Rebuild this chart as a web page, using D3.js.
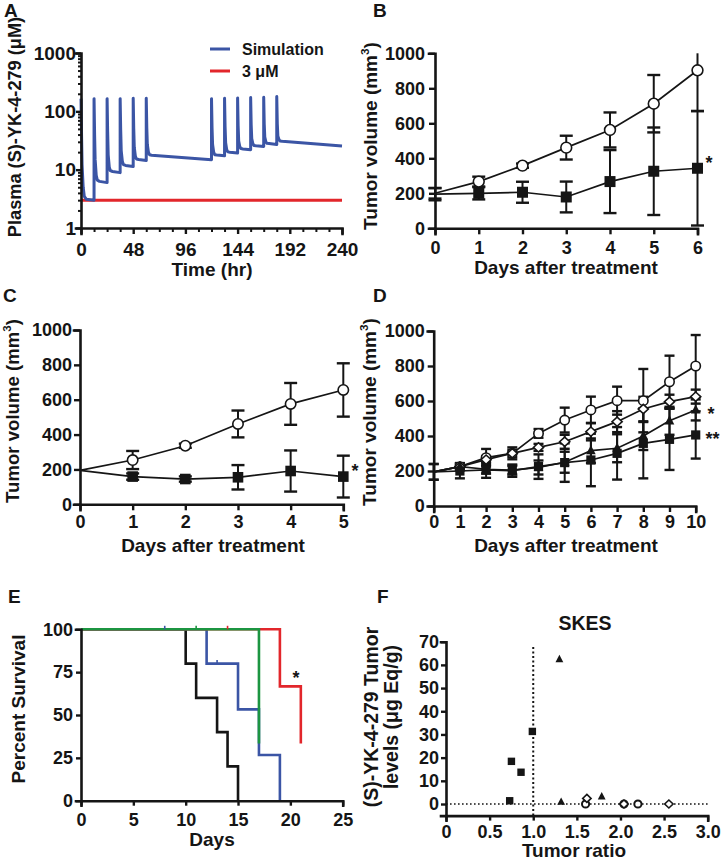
<!DOCTYPE html>
<html><head><meta charset="utf-8">
<script src="https://cdn.jsdelivr.net/npm/d3@7"></script>
<style>
body{margin:0;background:#fff}
svg text{font-family:"Liberation Sans",Arial,Helvetica,sans-serif;font-weight:bold;fill:#151515}
</style></head><body>
<svg id="c" width="722" height="864"></svg>
<script>
// ---------------- DATA ----------------
// Panel A: simulated plasma concentration (hr, µM)
const A_time = [0,0.5,1,2,3,5,12, 12,12.5,13,14,15,17,24, 24,24.5,25,26,27,29,36, 36,36.5,37,38,39,41,48,
  48,48.5,49,50,51,53,60, 60,60.5,61,62,63,65,120, 120,120.5,121,122,123,125,132, 132,132.5,133,134,135,137,144,
  144,144.5,145,146,147,149,156, 156,156.5,157,158,159,161,168, 168,168.5,169,170,171,173,180, 180,180.5,181,182,183,185,240];
const A_conc = [165,40,12,5,3.5,3.1,3.0, 165,40,15,8,6.6,6.3,6.0, 165,45,18,11,9.6,9.3,8.9, 165,48,21,14,12.2,11.8,11.3,
  167,50,24,17,15.2,14.9,14.3, 167,52,27,20,18,17.7,14.8, 165,52,27,20,18,17.8,17.3, 167,54,29,22,20.2,19.9,19.3,
  170,56,31,25,23,22.7,22, 172,58,34,28,26,25.7,25, 175,60,36,30,28.3,28,27, 180,62,38,33,31,30.6,25.5];
const A_threshold = 3;
const A_xTicks = [0,48,96,144,192,240];
const A_xMinor = [12,24,36,60,72,84,108,120,132,156,168,180,204,216,228];
const A_yTicks = [1,10,100,1000];
const A_legend = ["Simulation","3 μM"];

// Panel B
const B_days = [0,1,2,3,4,5,6];
const B_ctrl = [200,267,358,461,562,712,903];
const B_ctrlErr = [30,28,12,68,100,164,233];
const B_trt = [195,200,206,179,267,326,343];
const B_trtErr = [35,35,60,88,180,250,327];

// Panel C
const C_days = [0,1,2,3,4,5];
const C_ctrl = [195,254,336,461,576,656];
const C_ctrlErr = [0,52,12,77,120,153];
const C_trt = [195,159,145,155,191,159];
const C_trtErr = [0,18,15,70,118,120];

// Panel D
const D_days = [0,1,2,3,4,5,6,7,8,9,10];
const D_ctrl = [195,225,276,301,415,491,549,602,602,710,800];
const D_ctrlErr = [45,20,50,34,25,71,76,80,181,149,177];
const D_dia = [195,225,265,301,335,367,425,482,554,596,625];
const D_diaErr = [0,15,20,20,20,40,50,60,70,40,40];
const D_tri = [195,225,210,205,220,250,316,330,400,487,549];
const D_triErr = [0,20,25,25,40,60,70,80,80,80,60];
const D_sq = [195,200,206,202,225,248,263,301,358,381,406];
const D_sqErr = [45,42,45,35,70,110,150,150,200,175,135];

// Panel E: Kaplan-Meier steps (day, % survival)
const E_black_t = [0,10,11,13,14,15];   const E_black_s = [100,80,60,40,20,0];
const E_blue_t  = [0,12,15,17,19];      const E_blue_s  = [100,80,53.3,26.7,0];
const E_green_t = [0,17];               const E_green_s = [100,33.3];
const E_red_t   = [0,19,21];            const E_red_s   = [100,66.7,33.3];
const E_blueCens_t = [8,13];  const E_blueCens_s = [100,80];
const E_greenCens_t = [11];   const E_greenCens_s = [100];
const E_redCens_t = [14];     const E_redCens_s = [100];

// Panel F: tumor ratio vs tumor levels
const F_sq_x  = [0.73,0.75,0.86,0.99]; const F_sq_y  = [1.4,18.4,13.7,31.3];
const F_tri_x = [1.30,1.32,1.785];     const F_tri_y = [62.4,0.9,3.2];
const F_dia_x = [1.615,2.04,2.555];    const F_dia_y = [2.4,0,0];
const F_cir_x = [1.60,2.04,2.20];      const F_cir_y = [0,0,0];

// ---------------- DRAWING ----------------
const svg = d3.select('#c');
const INK = '#151515';
const BLUE = '#3b55a5', RED = '#e2262b', GREEN = '#1c9541';

function styleAxis(g, fs){
  g.attr('font-size', fs).attr('font-family', null);
  g.select('.domain').attr('stroke', INK).attr('stroke-width', 2.6).attr('stroke-linecap','square');
  g.selectAll('.tick line').attr('stroke', INK).attr('stroke-width', 2.4);
  g.selectAll('.tick text').attr('fill', INK);
}
function drawAxes(g, x, y, o){
  const xa = g.append('g').attr('transform', `translate(0,${y.range()[0]})`)
    .call(d3.axisBottom(x).tickValues(o.xTicks).tickFormat(o.xFmt || (d=>d))
      .tickSizeOuter(0).tickSize(o.xt).tickPadding(o.xp));
  styleAxis(xa, o.fs);
  const ya = g.append('g').attr('transform', `translate(${x.range()[0]},0)`)
    .call(d3.axisLeft(y).tickValues(o.yTicks).tickFormat(o.yFmt || (d=>d))
      .tickSizeOuter(0).tickSize(o.yt).tickPadding(o.yp));
  styleAxis(ya, o.fs);
}
function yTitle(x, y, lines, fs){
  lines.forEach((ln, i) => {
    const t = svg.append('text').attr('transform', `translate(${x[i]},${y}) rotate(-90)`)
      .attr('text-anchor','middle').attr('font-size', fs);
    if (Array.isArray(ln)) {
      t.append('tspan').text(ln[0]);
      t.append('tspan').attr('font-size', fs*0.62).attr('dy', -fs*0.42).text(ln[1]);
      t.append('tspan').attr('dy', fs*0.42).text(ln[2]);
    } else t.text(ln);
  });
}
function text(x, y, s, fs, anchor){
  return svg.append('text').attr('x', x).attr('y', y).attr('font-size', fs)
    .attr('text-anchor', anchor || 'start').text(s);
}
function marker(g, shape, cx, cy, s){
  if (shape === 'circle') g.append('circle').attr('cx',cx).attr('cy',cy).attr('r',s)
      .attr('fill','#fff').attr('stroke',INK).attr('stroke-width',1.6);
  else if (shape === 'square') g.append('rect').attr('x',cx-s).attr('y',cy-s)
      .attr('width',2*s).attr('height',2*s).attr('fill',INK);
  else if (shape === 'triangle') g.append('path')
      .attr('d',`M${cx},${cy-s*1.15}L${cx+s},${cy+s*0.75}L${cx-s},${cy+s*0.75}Z`).attr('fill',INK);
  else if (shape === 'diamond') g.append('path')
      .attr('d',`M${cx},${cy-s}L${cx+s*1.1},${cy}L${cx},${cy+s}L${cx-s*1.1},${cy}Z`)
      .attr('fill','#fff').attr('stroke',INK).attr('stroke-width',1.6);
}

// ---- Panel A ----
(function(){
  const g = svg.append('g');
  const x = d3.scaleLinear().domain([0,240]).range([81,342]);
  const y = d3.scaleLog().domain([1,1000]).range([228,53]);
  const line = d3.line().x(d=>x(d[0])).y(d=>y(d[1]));
  g.append('path').attr('d', line([[0,A_threshold],[240,A_threshold]]))
    .attr('stroke', RED).attr('stroke-width', 3).attr('fill','none');
  g.append('path').attr('d', line(A_time.map((t,i)=>[t, A_conc[i]])))
    .attr('stroke', BLUE).attr('stroke-width', 3).attr('fill','none').attr('stroke-linejoin','round');
  const yMinor = [];
  [1,10,100].forEach(d=>{ for(let k=2;k<10;k++) yMinor.push(d*k); });
  const ym = g.append('g').attr('transform','translate(81,0)')
    .call(d3.axisLeft(y).tickValues(yMinor).tickFormat('').tickSize(3));
  ym.select('.domain').remove(); ym.selectAll('line').attr('stroke',INK).attr('stroke-width',2);
  const xm = g.append('g').attr('transform','translate(0,228)')
    .call(d3.axisBottom(x).tickValues(A_xMinor).tickFormat('').tickSize(4));
  xm.select('.domain').remove(); xm.selectAll('line').attr('stroke',INK).attr('stroke-width',2);
  drawAxes(g, x, y, {xTicks:A_xTicks, yTicks:A_yTicks, xt:6, xp:9, yt:5, yp:0, fs:19});
  g.append('line').attr('x1',210).attr('x2',230).attr('y1',49).attr('y2',49).attr('stroke',BLUE).attr('stroke-width',3);
  g.append('line').attr('x1',210).attr('x2',230).attr('y1',71).attr('y2',71).attr('stroke',RED).attr('stroke-width',3);
  text(242, 55, A_legend[0], 16);
  text(242, 77, A_legend[1], 16);
  yTitle([21], 127, ['Plasma (S)-YK-4-279 (μM)'], 18.2);
  text(212, 276, 'Time (hr)', 19, 'middle');
  text(4, 17, 'A', 19);
})();

// ---- tumor-volume panels ----
function tumorPanel(cfg){
  const g = svg.append('g');
  const x = d3.scaleLinear().domain([0, cfg.days[cfg.days.length-1]]).range(cfg.xr);
  const y = d3.scaleLinear().domain([0,1000]).range(cfg.yr);
  cfg.series.forEach(s => {
    s.vals.forEach((v,i) => {
      const e = s.errs[i]; if (!e) return;
      const xi = x(cfg.days[i]);
      const hi = v + e, lo = Math.max(0, v - e);
      g.append('line').attr('x1',xi).attr('x2',xi).attr('y1',y(Math.min(hi,1000))).attr('y2',y(lo))
        .attr('stroke',INK).attr('stroke-width',2);
      if (hi <= 1000) g.append('line').attr('x1',xi-cfg.cap).attr('x2',xi+cfg.cap).attr('y1',y(hi)).attr('y2',y(hi))
        .attr('stroke',INK).attr('stroke-width',2.4);
      if (v - e >= 0) g.append('line').attr('x1',xi-cfg.cap).attr('x2',xi+cfg.cap).attr('y1',y(lo)).attr('y2',y(lo))
        .attr('stroke',INK).attr('stroke-width',2.4);
    });
  });
  const line = d3.line().x((d,i)=>x(cfg.days[i])).y(d=>y(d));
  cfg.series.forEach(s => {
    g.append('path').attr('d', line(s.vals)).attr('fill','none').attr('stroke',INK).attr('stroke-width',1.7);
  });
  cfg.series.forEach(s => {
    s.vals.forEach((v,i) => { if (i>0) marker(g, s.shape, x(cfg.days[i]), y(v), s.size); });
  });
  drawAxes(g, x, y, {xTicks:cfg.days, yTicks:[0,200,400,600,800,1000], xt:6, xp:cfg.xp, yt:6, yp:cfg.yp, fs:18});
  cfg.stars.forEach(st => text(st[0], st[1], st[2], 18, 'start'));
  yTitle([cfg.ytx], cfg.yty, [['Tumor volume (mm','3',')']], cfg.yfs || 19);
  text(cfg.xtx, cfg.xty, 'Days after treatment', 19, 'middle');
  text(cfg.lab[0], cfg.lab[1], cfg.lab[2], 19);
}

tumorPanel({days:B_days, xr:[435,697.5], yr:[228.3,53.3], cap:6.5, xp:7, yp:4,
  series:[{vals:B_ctrl, errs:B_ctrlErr, shape:'circle', size:5.4},
          {vals:B_trt, errs:B_trtErr, shape:'square', size:5.5}],
  stars:[[705.5,168.5,'*']], ytx:377, yty:136, xtx:566, xty:274, lab:[373,17,'B']});

tumorPanel({days:C_days, xr:[80,343.3], yr:[504.3,330], cap:6.5, xp:5, yp:2,
  series:[{vals:C_ctrl, errs:C_ctrlErr, shape:'circle', size:5.2},
          {vals:C_trt, errs:C_trtErr, shape:'square', size:5.3}],
  stars:[[351.5,477,'*']], ytx:18.5, yty:411, yfs:18.6, xtx:213, xty:552, lab:[3,302,'C']});

tumorPanel({days:D_days, xr:[433.7,695.7], yr:[506,331], cap:5, xp:3, yp:3,
  series:[{vals:D_ctrl, errs:D_ctrlErr, shape:'circle', size:4.7},
          {vals:D_dia, errs:D_diaErr, shape:'diamond', size:4.6},
          {vals:D_tri, errs:D_triErr, shape:'triangle', size:4.8},
          {vals:D_sq, errs:D_sqErr, shape:'square', size:4.6}],
  stars:[[707.5,420,'*'],[705.5,445,'**']], ytx:376, yty:412, xtx:566, xty:552, lab:[373,302,'D']});

// ---- Panel E ----
(function(){
  const g = svg.append('g');
  const x = d3.scaleLinear().domain([0,25]).range([81,342.7]);
  const y = d3.scaleLinear().domain([0,100]).range([800.7,629.3]);
  const line = d3.line().x(d=>x(d[0])).y(d=>y(d[1])).curve(d3.curveStepAfter);
  const curves = [[E_black_t,E_black_s,INK],[E_blue_t,E_blue_s,BLUE],[E_red_t,E_red_s,RED],[E_green_t,E_green_s,GREEN]];
  curves.forEach(c => {
    g.append('path').attr('d', line(c[0].map((t,i)=>[t,c[1][i]]))).attr('fill','none')
      .attr('stroke', c[2]).attr('stroke-width', 2.6);
  });
  [[E_blueCens_t,E_blueCens_s,BLUE],[E_greenCens_t,E_greenCens_s,GREEN],[E_redCens_t,E_redCens_s,RED]].forEach(c => {
    c[0].forEach((t,i) => g.append('line').attr('x1',x(t)).attr('x2',x(t)).attr('y1',y(c[1][i])-3.5).attr('y2',y(c[1][i]))
      .attr('stroke',c[2]).attr('stroke-width',1.6));
  });
  drawAxes(g, x, y, {xTicks:[0,5,10,15,20,25], yTicks:[0,25,50,75,100], xt:5, xp:7.5, yt:5, yp:3, fs:18});
  text(292.5, 684, '*', 18);
  yTitle([25], 709, ['Percent Survival'], 19);
  text(212, 846, 'Days', 19, 'middle');
  text(8, 603, 'E', 19);
})();

// ---- Panel F ----
(function(){
  const g = svg.append('g');
  const x = d3.scaleLinear().domain([0,3]).range([446,707.7]);
  const y = d3.scaleLinear().domain([-5,70]).range([815.6,641.7]);
  g.append('line').attr('x1',x(0)).attr('x2',x(3)).attr('y1',y(0)).attr('y2',y(0))
    .attr('stroke',INK).attr('stroke-width',1.6).attr('stroke-dasharray','1.6,2.4');
  g.append('line').attr('x1',x(1)).attr('x2',x(1)).attr('y1',y(-5)).attr('y2',y(68))
    .attr('stroke',INK).attr('stroke-width',2).attr('stroke-dasharray','2,2.5');
  F_sq_x.forEach((v,i)=>marker(g,'square',x(v),y(F_sq_y[i]),3.7));
  F_tri_x.forEach((v,i)=>marker(g,'triangle',x(v),y(F_tri_y[i]),3.9));
  F_cir_x.forEach((v,i)=>{ g.append('circle').attr('cx',x(v)).attr('cy',y(F_cir_y[i])).attr('r',3.6)
      .attr('fill','#fff').attr('stroke',INK).attr('stroke-width',2); });
  F_dia_x.forEach((v,i)=>{ g.append('path')
      .attr('d',`M${x(v)},${y(F_dia_y[i])-4}L${x(v)+4.2},${y(F_dia_y[i])}L${x(v)},${y(F_dia_y[i])+4}L${x(v)-4.2},${y(F_dia_y[i])}Z`)
      .attr('fill','#fff').attr('stroke',INK).attr('stroke-width',1.6); });
  drawAxes(g, x, y, {xTicks:[0,0.5,1,1.5,2,2.5,3], yTicks:[0,10,20,30,40,50,60,70], xt:5, xp:4.5, yt:5, yp:2, fs:18,
    xFmt: d => d===0 ? '0' : d.toFixed(1)});
  text(585, 630, 'SKES', 19.5, 'middle');
  yTitle([378, 398], 717, ['(S)-YK-4-279 Tumor', 'levels (μg Eq/g)'], 19.5);
  text(574, 857, 'Tumor ratio', 19, 'middle');
  text(377, 603, 'F', 19);
})();
</script>
</body></html>
